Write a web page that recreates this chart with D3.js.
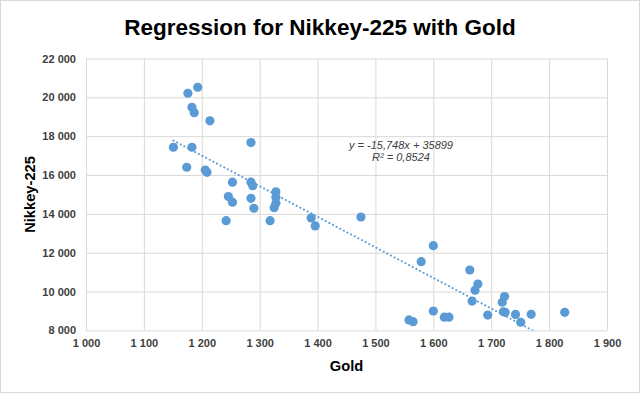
<!DOCTYPE html>
<html>
<head>
<meta charset="utf-8">
<script src="https://cdn.jsdelivr.net/npm/d3@7/dist/d3.min.js"></script>
<style>
  html, body { margin: 0; padding: 0; background: #fff; }
  svg { display: block; font-family: "Liberation Sans", Arial, sans-serif; }
</style>
</head>
<body>
<svg id="chart" width="640" height="393"></svg>
<script>
// ---- Data ----
const gold = [1193, 1176, 1183, 1187, 1214, 1285, 1151, 1183, 1174, 1206, 1209,
  1253, 1285, 1288, 1328, 1246, 1253, 1285, 1328, 1328, 1290, 1325, 1242, 1318,
  1389, 1396, 1475, 1600, 1579, 1663, 1677, 1672, 1667, 1723, 1719, 1600, 1558,
  1565, 1619, 1627, 1694, 1721, 1724, 1742, 1751, 1769, 1827];
const nikkei = [20520, 20210, 19490, 19210, 18790, 17670, 17430, 17430, 16400, 16260, 16140,
  15630, 15630, 15450, 15140, 14890, 14600, 14800, 14860, 14550, 14290, 14320, 13650, 13650,
  13790, 13380, 13840, 12360, 11540, 11110, 10390, 10070, 9510, 9740, 9450, 9000, 8540,
  8450, 8680, 8680, 8790, 8960, 8930, 8820, 8420, 8830, 8930];
const xTicks = [1000, 1100, 1200, 1300, 1400, 1500, 1600, 1700, 1800, 1900];
const yTicks = [8000, 10000, 12000, 14000, 16000, 18000, 20000, 22000];
const trendSlope = -15.748;
const trendIntercept = 35899;
const equationLines = ["y = -15,748x + 35899", "R\u00B2 = 0,8524"];
const titleText = "Regression for Nikkey-225 with Gold";
const xTitle = "Gold";
const yTitle = "Nikkey-225";

// ---- Layout ----
const W = 640, H = 393;
const plot = { left: 86, right: 607, top: 58.5, bottom: 330.4 };
const blue = "#5B9BD5";

const svg = d3.select("#chart");
svg.append("rect").attr("x", 0.5).attr("y", 0.5).attr("width", W - 1).attr("height", H - 1)
  .attr("fill", "#fff").attr("stroke", "#d9d9d9");

const x = d3.scaleLinear().domain([1000, 1900]).range([plot.left, plot.right]);
const y = d3.scaleLinear().domain([8000, 22000]).range([plot.bottom, plot.top]);

const loc = d3.formatLocale({ decimal: ",", thousands: "\u00A0", grouping: [3], currency: ["", ""] });
const fmt = loc.format(",d");

// gridlines + axes
const gx = svg.append("g").attr("transform", `translate(0,${plot.bottom})`)
  .call(d3.axisBottom(x).tickValues(xTicks).tickSize(-(plot.bottom - plot.top)).tickFormat(fmt).tickPadding(9));
const gy = svg.append("g").attr("transform", `translate(${plot.left},0)`)
  .call(d3.axisLeft(y).tickValues(yTicks).tickSize(-(plot.right - plot.left)).tickFormat(fmt).tickPadding(10));
[gx, gy].forEach(g => {
  g.select(".domain").remove();
  g.selectAll(".tick line").attr("stroke", "#d9d9d9").attr("stroke-width", 1);
  g.selectAll(".tick text").attr("fill", "#404040").attr("font-size", 11).attr("font-weight", "bold")
    .attr("font-family", "'Liberation Sans', Arial, sans-serif");
});

// clip
svg.append("clipPath").attr("id", "clip").append("rect")
  .attr("x", plot.left).attr("y", plot.top).attr("width", plot.right - plot.left).attr("height", plot.bottom - plot.top);

// trendline
const xmin = d3.min(gold), xmax = d3.max(gold);
const trendPts = [xmin, xmax].map(v => [v, trendSlope * v + trendIntercept]);
svg.append("path").attr("clip-path", "url(#clip)")
  .attr("d", d3.line().x(d => x(d[0])).y(d => y(d[1]))(trendPts))
  .attr("fill", "none").attr("stroke", blue).attr("stroke-width", 2)
  .attr("stroke-dasharray", "0.1 4").attr("stroke-linecap", "round");

// points
svg.append("g").selectAll("circle").data(gold.map((g, i) => [g, nikkei[i]])).join("circle")
  .attr("cx", d => x(d[0])).attr("cy", d => y(d[1])).attr("r", 4.6).attr("fill", blue);

// equation
svg.append("g").selectAll("text").data(equationLines).join("text")
  .attr("x", 401).attr("y", (d, i) => 149 + i * 11.5)
  .attr("text-anchor", "middle").attr("font-size", 11).attr("font-style", "italic")
  .attr("fill", "#404040").text(d => d);

// titles
svg.append("text").attr("x", 320).attr("y", 35).attr("text-anchor", "middle")
  .attr("font-size", 22.5).attr("font-weight", "bold").attr("fill", "#000").text(titleText);
svg.append("text").attr("x", (plot.left + plot.right) / 2).attr("y", 371).attr("text-anchor", "middle")
  .attr("font-size", 14.7).attr("font-weight", "bold").attr("fill", "#000").text(xTitle);
svg.append("text").attr("transform", `translate(35,${(plot.top + plot.bottom) / 2}) rotate(-90)`)
  .attr("text-anchor", "middle").attr("font-size", 14.7).attr("font-weight", "bold").attr("fill", "#000").text(yTitle);
</script>
</body>
</html>
